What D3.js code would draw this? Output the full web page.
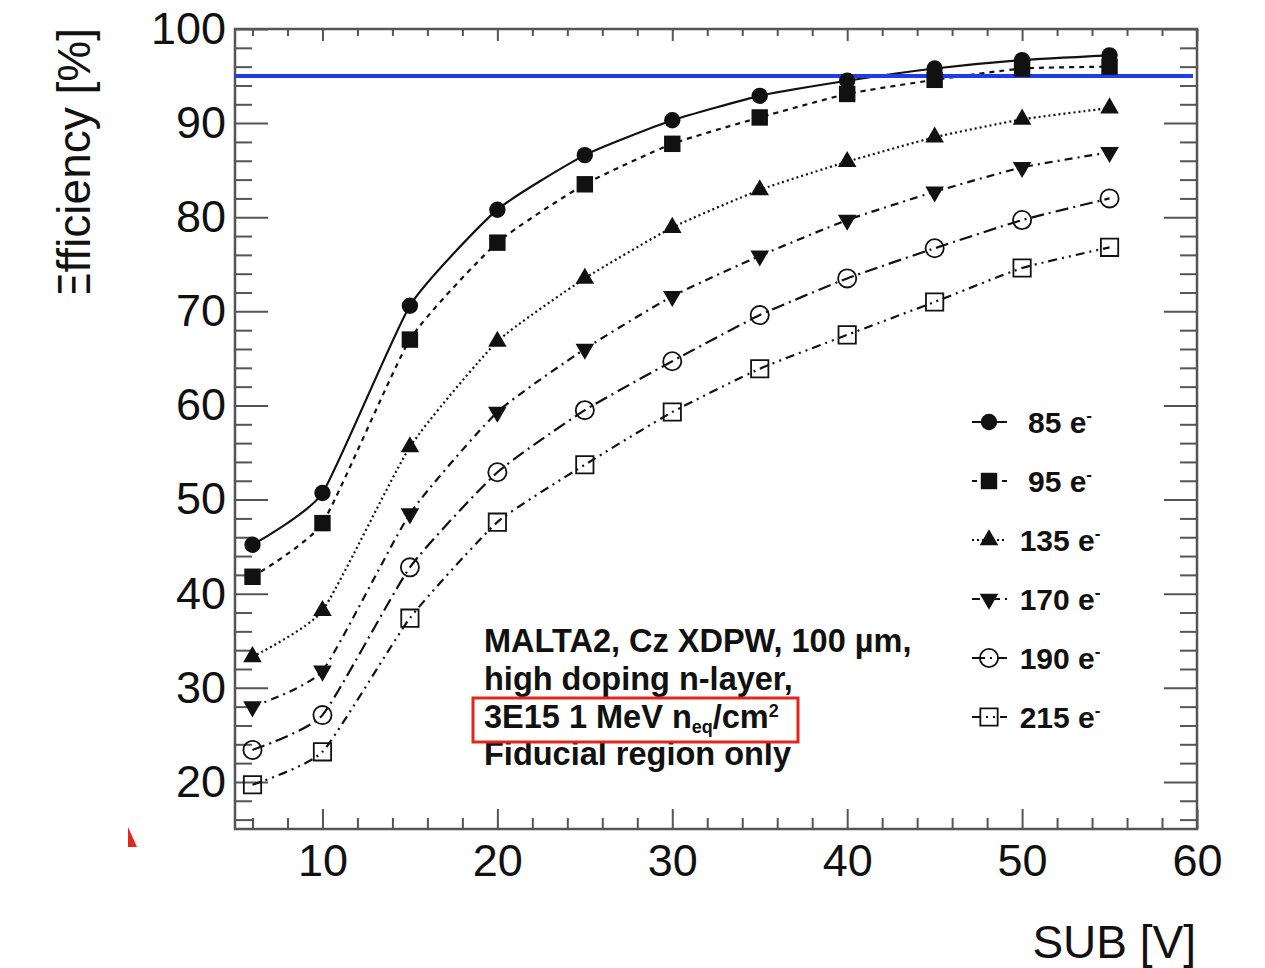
<!DOCTYPE html>
<html>
<head>
<meta charset="utf-8">
<script src="https://cdn.jsdelivr.net/npm/d3@7"></script>
<style>
  body { margin: 0; background: #fff; }
  text { font-family: "Liberation Sans", Arial, Helvetica, sans-serif; fill: #111; }
</style>
</head>
<body>
<div id="chart"></div>
<script>
// data
var voltages = [6, 10, 15, 20, 25, 30, 35, 40, 45, 50, 55];
var eff85  = [45.2, 50.7, 70.6, 80.8, 86.6, 90.3, 92.9, 94.5, 95.8, 96.7, 97.2];
var eff95  = [41.8, 47.5, 67.0, 77.3, 83.5, 87.8, 90.6, 93.1, 94.6, 95.8, 96.0];
var eff135 = [33.3, 38.2, 55.6, 66.8, 73.5, 78.9, 82.9, 85.9, 88.5, 90.4, 91.6];
var eff170 = [28.0, 31.8, 48.5, 59.3, 66.0, 71.6, 75.9, 79.7, 82.7, 85.3, 86.9];
var eff190 = [23.4, 27.1, 42.8, 52.9, 59.5, 64.7, 69.6, 73.5, 76.7, 79.7, 82.0];
var eff215 = [19.7, 23.2, 37.4, 47.6, 53.7, 59.3, 63.9, 67.5, 71.0, 74.6, 76.8];
var thresholds = ["85", "95", "135", "170", "190", "215"];
var xTicks = [10, 20, 30, 40, 50, 60];
var yTicks = [20, 30, 40, 50, 60, 70, 80, 90, 100];
var targetEff = 95;
var noteLines = ["MALTA2, Cz XDPW, 100 \u00b5m,", "high doping n-layer,", "3E15 1 MeV n", "Fiducial region only"];

var series = [eff85, eff95, eff135, eff170, eff190, eff215];

// ROOT-like marker / line styles
var styles = [
    { symbol: d3.symbolCircle,   size: 210, rot: 0,   filled: true,  dash: null },
    { symbol: d3.symbolSquare,   size: 270, rot: 0,   filled: true,  dash: "5,5" },
    { symbol: d3.symbolTriangle, size: 150, rot: 0,   filled: true,  dash: "2,3" },
    { symbol: d3.symbolTriangle, size: 150, rot: 180, filled: true,  dash: "8,5,2,5" },
    { symbol: d3.symbolCircle,   size: 260, rot: 0,   filled: false, dash: "13,5,2,5" },
    { symbol: d3.symbolSquare,   size: 300, rot: 0,   filled: false, dash: "9,5,2,5,2,5" }
];

var W = 1265, H = 968;
var margin = { top: 29, right: 68, bottom: 139, left: 235 },
    width = W - margin.left - margin.right,
    height = H - margin.top - margin.bottom;

var svg = d3.select("#chart")
    .append("svg")
    .attr("width", W)
    .attr("height", H);

var g = svg.append("g")
    .attr("transform", "translate(" + margin.left + "," + margin.top + ")");

var x = d3.scaleLinear().domain([5, 60]).range([0, width]);
var y = d3.scaleLinear().domain([15, 100]).range([height, 0]);

var xMinor = d3.range(6, 60, 2).filter(function (v) { return v % 10 != 0; });
var yMinor = d3.range(16, 100, 2).filter(function (v) { return v % 10 != 0; });

function styleAxis(sel) {
    sel.select(".domain").remove();
    sel.selectAll("line").attr("stroke", "#555").attr("stroke-width", 2);
}

// bottom axis with labels
g.append("g")
    .attr("transform", "translate(0," + height + ")")
    .call(d3.axisBottom(x).tickValues(xTicks).tickSize(-20).tickPadding(15).tickFormat(d3.format("d")))
    .call(styleAxis)
    .selectAll("text")
    .style("font-size", "45px")
    .attr("fill", "#111");
g.append("g")
    .attr("transform", "translate(0," + height + ")")
    .call(d3.axisBottom(x).tickValues(xMinor).tickSize(-11).tickFormat(""))
    .call(styleAxis);

// top axis
g.append("g")
    .call(d3.axisTop(x).tickValues(xTicks).tickSize(-12).tickFormat(""))
    .call(styleAxis);
g.append("g")
    .call(d3.axisTop(x).tickValues(xMinor).tickSize(-7).tickFormat(""))
    .call(styleAxis);

// left axis with labels
g.append("g")
    .call(d3.axisLeft(y).tickValues(yTicks).tickSize(-33).tickPadding(9).tickFormat(d3.format("d")))
    .call(styleAxis)
    .selectAll("text")
    .style("font-size", "45px")
    .attr("fill", "#111");
g.append("g")
    .call(d3.axisLeft(y).tickValues(yMinor).tickSize(-17).tickFormat(""))
    .call(styleAxis);

// right axis
g.append("g")
    .attr("transform", "translate(" + width + ",0)")
    .call(d3.axisRight(y).tickValues(yTicks).tickSize(-33).tickFormat(""))
    .call(styleAxis);
g.append("g")
    .attr("transform", "translate(" + width + ",0)")
    .call(d3.axisRight(y).tickValues(yMinor).tickSize(-17).tickFormat(""))
    .call(styleAxis);

// frame
g.append("rect")
    .attr("width", width)
    .attr("height", height)
    .attr("fill", "none")
    .attr("stroke", "#555")
    .attr("stroke-width", 2.5);

// curves
var line = d3.line()
    .x(function (d, i) { return x(voltages[i]); })
    .y(function (d) { return y(d); })
    .curve(d3.curveCardinal.tension(0.5));

g.selectAll(".curve")
    .data(series)
    .enter()
    .append("path")
    .attr("class", "curve")
    .attr("d", line)
    .attr("fill", "none")
    .attr("stroke", "#111")
    .attr("stroke-width", 2.2)
    .attr("stroke-dasharray", function (d, i) { return styles[i].dash; });

// 95% line
g.append("line")
    .attr("x1", 0)
    .attr("x2", width - 4)
    .attr("y1", y(targetEff))
    .attr("y2", y(targetEff))
    .attr("stroke", "#1f3de8")
    .attr("stroke-width", 4);

// markers
series.forEach(function (vals, s) {
    var st = styles[s];
    var sym = d3.symbol().type(st.symbol).size(st.size);
    g.selectAll(".m" + s)
        .data(vals)
        .enter()
        .append("path")
        .attr("d", sym)
        .attr("transform", function (d, i) {
            return "translate(" + x(voltages[i]) + "," + y(d) + ") rotate(" + st.rot + ")";
        })
        .attr("fill", st.filled ? "#111" : "none")
        .attr("stroke", "#111")
        .attr("stroke-width", st.filled ? 0 : 1.8);
});

// legend
var legY = d3.scaleLinear().domain([0, 5]).range([422, 717]);
var leg = svg.append("g");
thresholds.forEach(function (t, i) {
    var st = styles[i];
    var ly = legY(i);
    leg.append("line")
        .attr("x1", 972).attr("x2", 1007)
        .attr("y1", ly).attr("y2", ly)
        .attr("stroke", "#111")
        .attr("stroke-width", 2.2)
        .attr("stroke-dasharray", st.dash);
    leg.append("path")
        .attr("d", d3.symbol().type(st.symbol).size(st.size))
        .attr("transform", "translate(989," + ly + ") rotate(" + st.rot + ")")
        .attr("fill", st.filled ? "#111" : "none")
        .attr("stroke", "#111")
        .attr("stroke-width", st.filled ? 0 : 1.8);
    var tx = leg.append("text")
        .attr("x", 1060)
        .attr("y", ly + 11)
        .attr("text-anchor", "middle")
        .style("font-size", "30px")
        .style("font-weight", "bold");
    tx.append("tspan").text(t + " e");
    tx.append("tspan").attr("dy", -12).style("font-size", "17px").text("-");
});

// annotation
var note = svg.append("g");
var noteY = [652, 690, 728, 765];
noteLines.forEach(function (txt, i) {
    var t = note.append("text")
        .attr("x", 484)
        .attr("y", noteY[i])
        .style("font-size", "32.5px")
        .style("font-weight", "bold");
    t.append("tspan").text(txt);
    if (i == 2) {
        t.append("tspan").attr("dy", 5).style("font-size", "18px").text("eq");
        t.append("tspan").attr("dy", -5).text("/cm");
        t.append("tspan").attr("dy", -11).style("font-size", "18px").text("2");
    }
});
note.append("rect")
    .attr("x", 473).attr("y", 698)
    .attr("width", 325).attr("height", 44)
    .attr("fill", "none")
    .attr("stroke", "#e3261b")
    .attr("stroke-width", 3);

// axis titles
svg.append("text")
    .attr("x", 1196)
    .attr("y", 958)
    .attr("text-anchor", "end")
    .style("font-size", "46px")
    .text("SUB [V]");

// y title, bottom edge cropped like in the source image
svg.append("clipPath").attr("id", "ttlclip")
    .append("rect").attr("x", 0).attr("y", 0).attr("width", 200).attr("height", 293);
svg.append("g")
    .attr("clip-path", "url(#ttlclip)")
    .append("text")
    .attr("transform", "translate(90,28) rotate(-90)")
    .attr("text-anchor", "end")
    .style("font-size", "46px")
    .text("Efficiency [%]");

// stray red mark at bottom left
svg.append("path")
    .attr("d", "M128,827 L137,847 L128,847 Z")
    .attr("fill", "#e3261b");
</script>
</body>
</html>
